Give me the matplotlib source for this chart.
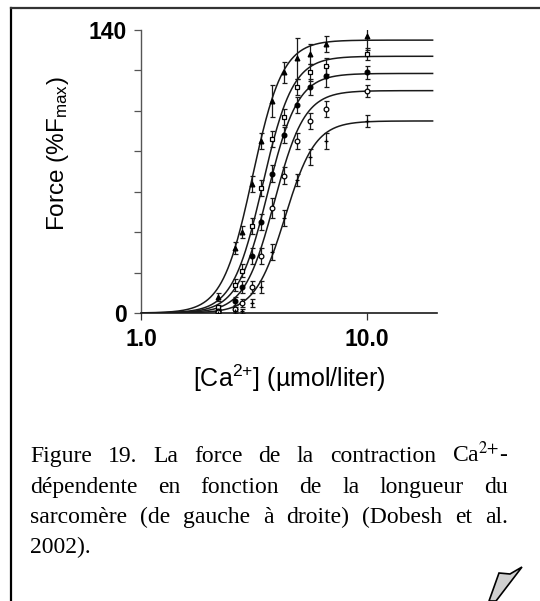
import numpy as np
import matplotlib
matplotlib.use("Agg")
import matplotlib.pyplot as plt
from matplotlib.lines import Line2D
from matplotlib.patches import Polygon

W, H = 540, 601

# measured [Ca2+] steps (umol/liter) and force (%Fmax) per sarcomere length
ca_conc = [2.2, 2.6, 2.8, 3.1, 3.4, 3.8, 4.3, 4.9, 5.6, 6.6, 10.0]
force_1 = [8, 32, 40, 64, 85, 105, 119, 126, 128, 133, 137]
err_1 = [2, 3, 3, 4, 4, 8, 5, 10, 5, 4, 7]
force_2 = [3, 14, 21, 43, 62, 86, 97, 112, 119, 122, 128]
err_2 = [1, 3, 3, 4, 4, 4, 4, 4, 4, 4, 3]
force_3 = [1, 6, 13, 28, 45, 69, 88, 103, 112, 117, 119]
err_3 = [1, 2, 3, 4, 4, 4, 4, 4, 4, 5, 3]
force_4 = [0.5, 2, 5, 13, 28, 52, 68, 85, 95, 101, 110]
err_4 = [1, 1, 2, 3, 4, 5, 4, 4, 4, 4, 3]
force_5 = [0, 1, 1, 5, 13, 30, 47, 66, 77, 85, 95]
err_5 = [1, 1, 1, 2, 3, 4, 4, 3, 4, 4, 3]

# Hill fit parameters
fmax = [135, 127, 118.5, 110, 95]
ec50 = [3.12, 3.46, 3.64, 3.90, 4.35]
hill_n = [6.5, 6.5, 6.5, 6.5, 6.5]

series = [force_1, force_2, force_3, force_4, force_5]
errors = [err_1, err_2, err_3, err_4, err_5]
markers = [("^", "k"), ("s", "white"), ("o", "k"), ("o", "white"), ("+", "k")]

plt.rcParams["mathtext.fontset"] = "custom"
plt.rcParams["mathtext.rm"] = "Liberation Sans"
plt.rcParams["mathtext.it"] = "Liberation Sans:italic"
plt.rcParams["mathtext.bf"] = "Liberation Sans:bold"
SANS = "Liberation Sans"
SERIF = "Liberation Serif"

fig = plt.figure(figsize=(W / 100, H / 100), dpi=100)
fig.patch.set_facecolor("white")
ax = fig.add_axes([141 / W, 1 - 313 / H, (437 - 141) / W, (313 - 30) / H])

xs = np.geomspace(1.0, 19.6, 400)
for fm, k, n in zip(fmax, ec50, hill_n):
    ax.plot(xs, fm * xs**n / (k**n + xs**n), color="#1a1a1a", lw=1.1, zorder=2)

for ys, es, (m, fc) in zip(series, errors, markers):
    ax.errorbar(ca_conc, ys, yerr=es, fmt="none", ecolor="#1a1a1a",
                elinewidth=0.9, capsize=1.8, capthick=0.9, zorder=3)
    ax.plot(ca_conc, ys, ls="none", marker=m, ms=3.4, mfc=fc, mec="k",
            mew=0.9, zorder=4)

ax.set_xscale("log")
ax.set_xlim(1.0, 20.5)
ax.set_ylim(0, 140)
ax.set_xticks([1, 10])
ax.set_xticklabels(["1.0", "10.0"])
ax.xaxis.set_minor_locator(matplotlib.ticker.NullLocator())
ax.set_yticks(range(0, 141, 20))
ax.set_yticklabels(["0", "", "", "", "", "", "", "140"])

for s in ("top", "right"):
    ax.spines[s].set_visible(False)
ax.spines["left"].set_color("#555555")
ax.spines["left"].set_linewidth(1.0)
ax.spines["bottom"].set_color("#1a1a1a")
ax.spines["bottom"].set_linewidth(1.2)
ax.tick_params(axis="y", direction="out", length=5, width=0.9, color="#555555", pad=5)
ax.tick_params(axis="x", direction="out", length=5, width=0.9, color="#333333", pad=6)
for lab in ax.get_xticklabels() + ax.get_yticklabels():
    lab.set_fontfamily(SANS)
    lab.set_fontweight("bold")
    lab.set_fontsize(16.5)

fig.text(58 / W, 1 - 154 / H, r"Force (%F$_{\rm max}$)", rotation=90,
         ha="center", va="center", fontsize=17.5, family=SANS)
fig.text(289 / W, 1 - 378 / H, r"[Ca$^{2{+}}$] (µmol/liter)",
         ha="center", va="center", fontsize=18, family=SANS)

# justified caption
caption = [
    (["Figure", "19.", "La", "force", "de", "la", "contraction", "Ca$^{2{+}}$-"], 462, True),
    (["dépendente", "en", "fonction", "de", "la", "longueur", "du"], 493, True),
    (["sarcomère", "(de", "gauche", "à", "droite)", "(Dobesh", "et", "al."], 523, True),
    (["2002)."], 553, False),
]
x_left, x_right = 30, 508
renderer = fig.canvas.get_renderer()
for words, base_y, justify in caption:
    texts = [fig.text(0, 1 - base_y / H, w, fontsize=17, family=SERIF,
                      va="baseline", ha="left", math_fontfamily="stix")
             for w in words]
    widths = [t.get_window_extent(renderer).width for t in texts]
    gap = (x_right - x_left - sum(widths)) / (len(words) - 1) if justify else 0
    x = x_left
    for t, w in zip(texts, widths):
        t.set_x(x / W)
        x += w + gap

# page frame
fig.add_artist(Line2D([11 / W, 11 / W], [0, 1 - 8 / H], transform=fig.transFigure,
                      color="black", lw=1.6))
fig.add_artist(Line2D([11 / W, 1], [1 - 8 / H, 1 - 8 / H], transform=fig.transFigure,
                      color="#333333", lw=1.6))

# folded corner
corner = [(489, 601), (499, 573), (510, 574), (522, 567), (496, 601)]
fig.add_artist(Polygon([(x / W, 1 - y / H) for x, y in corner], closed=True,
                       transform=fig.transFigure, fc="#d0d0d0", ec="black", lw=1.2))

fig.savefig("out.png", dpi=100, facecolor="white")
